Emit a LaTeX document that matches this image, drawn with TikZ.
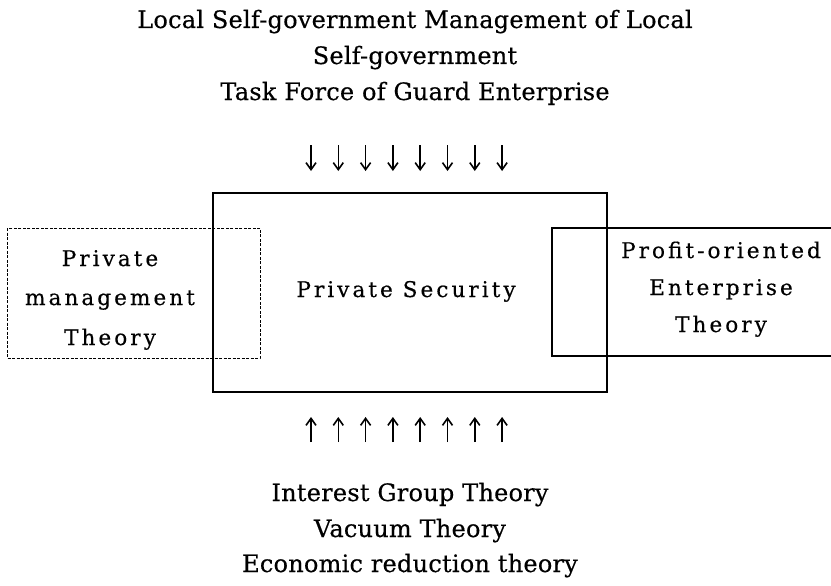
\documentclass[tikz,border=0pt]{standalone}
\usepackage{fontspec}
\usetikzlibrary{arrows.meta}
\setmainfont{DejaVu Serif}[LetterSpace=1, FakeBold=0.4]
\newfontfamily\boxfont{DejaVu Serif}[LetterSpace=14, FakeBold=0.4]
\begin{document}
\begin{tikzpicture}[x=1pt,y=-1pt,
  hdr/.style={font=\fontsize{24}{36}\selectfont, inner sep=0pt, anchor=base},
  bxt/.style={font=\boxfont\fontsize{21.6}{36}\selectfont, inner sep=0pt, anchor=base},
  arr/.style={-{Straight Barb[length=7pt,width=10pt]}, line width=1.6pt}]
\useasboundingbox (0,0) rectangle (831,586);
\node[hdr] (t1) at (415,28) {Local Self-government Management of Local};
\node[hdr] (t2) at (415,64) {Self-government};
\node[hdr] (t3) at (415,100) {Task Force of Guard Enterprise};
\node[hdr] (b1) at (410,501) {Interest Group Theory};
\node[hdr] (b2) at (410,537) {Vacuum Theory};
\node[hdr] (b3) at (410,572) {Economic reduction theory};
\draw[line width=1.2pt] (213,193) rectangle (607,392);
\draw[line width=0.9pt, dash pattern=on 3pt off 1.5pt] (7,228) rectangle (260,358);
\draw[line width=1.2pt] (831,228) -- (552,228) -- (552,356) -- (831,356);
\node[bxt] (ps) at (406,297) {Private Security};
\node[bxt] (pm1) at (110,266) {Private};
\node[bxt] (pm2) at (110,305) {management};
\node[bxt] (pm3) at (110,345) {Theory};
\node[bxt] (po1) at (721,258) {Profit-oriented};
\node[bxt] (po2) at (721,295) {Enterprise};
\node[bxt] (po3) at (721,332) {Theory};
\foreach \i in {0,...,7} {
  \coordinate (d\i) at (311+27.3*\i,145);
  \coordinate (e\i) at (311+27.3*\i,171);
  \draw[arr] (d\i) -- (e\i);
  \coordinate (u\i) at (311+27.3*\i,442);
  \coordinate (v\i) at (311+27.3*\i,417);
  \draw[arr] (u\i) -- (v\i);
}
\end{tikzpicture}
\end{document}
